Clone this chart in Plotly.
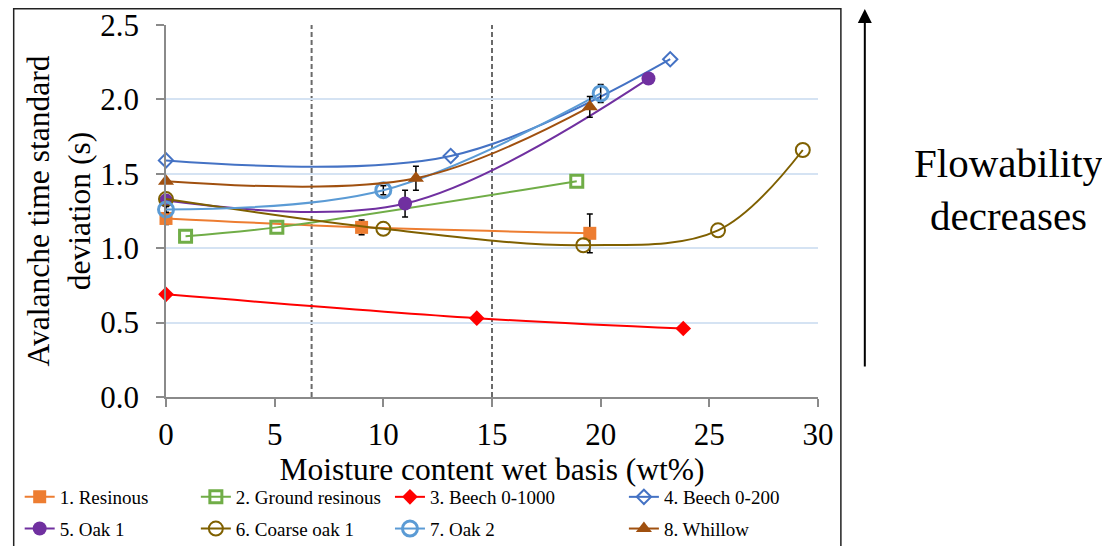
import plotly.graph_objects as go

# Avalanche time standard deviation vs moisture content
names = ["1. Resinous", "2. Ground resinous", "3. Beech 0-1000", "4. Beech 0-200",
         "5. Oak 1", "6. Coarse oak 1", "7. Oak 2", "8. Whillow"]

resinous_x = [0, 9, 19.5]
resinous_y = [1.20, 1.14, 1.10]
resinous_err = [0.04, 0.05, 0.13]

ground_x = [0.9, 5.1, 18.9]
ground_y = [1.08, 1.14, 1.45]

beech1000_x = [0, 14.3, 23.8]
beech1000_y = [0.69, 0.53, 0.46]

beech200_x = [0, 13.1, 23.2]
beech200_y = [1.59, 1.62, 2.27]

oak1_x = [0, 11, 22.2]
oak1_y = [1.32, 1.30, 2.14]
oak1_err = [None, 0.09, None]

coarse_x = [0, 10, 19.2, 25.4, 29.3]
coarse_y = [1.33, 1.13, 1.02, 1.12, 1.66]

oak2_x = [0, 10, 20]
oak2_y = [1.26, 1.39, 2.04]
oak2_err = [0.02, 0.03, 0.06]

whillow_x = [0, 11.5, 19.5]
whillow_y = [1.45, 1.47, 1.95]
whillow_err = [None, 0.08, 0.07]

limits_x = [6.7, 15]

FONT = "Liberation Serif, Times New Roman, serif"

series = [
    # x, y, err, color, symbol, size, marker line width, legend
    (resinous_x, resinous_y, resinous_err, "#ED7D31", "square", 13, 0, "legend"),
    (ground_x, ground_y, None, "#70AD47", "square-open", 12, 3, "legend2"),
    (beech1000_x, beech1000_y, None, "#FF0000", "diamond", 12, 0, "legend3"),
    (beech200_x, beech200_y, None, "#4472C4", "diamond-open", 11, 2, "legend4"),
    (oak1_x, oak1_y, oak1_err, "#7030A0", "circle", 14, 0, "legend"),
    (coarse_x, coarse_y, None, "#7F6000", "circle-open", 14, 2, "legend2"),
    (oak2_x, oak2_y, oak2_err, "#5B9BD5", "circle-open", 15, 3, "legend3"),
    (whillow_x, whillow_y, whillow_err, "#A0500F", "triangle-up", 14, 0, "legend4"),
]

fig = go.Figure()

for name, (x, y, err, col, sym, size, lw, leg) in zip(names, series):
    tr = dict(
        x=x, y=y, name=name, mode="lines+markers", legend=leg, legendgroup=name,
        line=dict(color=col, width=2, shape="spline", smoothing=1),
        marker=dict(symbol=sym, size=size, color=col, line=dict(color=col, width=lw)),
        cliponaxis=False,
    )
    if err is not None:
        tr["error_y"] = dict(type="data", array=err, color="black", thickness=1.5, width=3)
    fig.add_trace(go.Scatter(**tr))

for xv in limits_x:
    fig.add_shape(type="line", xref="x", yref="y", x0=xv, x1=xv, y0=0, y1=2.5,
                  line=dict(color="#6A6A6A", width=2, dash="5px,3px"), layer="below")

# outer frame around the chart
fig.add_shape(type="rect", xref="paper", yref="paper",
              x0=-0.2336, x1=1.0351, y0=-0.45, y1=1.0437,
              line=dict(color="#222222", width=1.5))

# flowability arrow and text
fig.add_annotation(xref="paper", yref="paper", x=1.0718, y=1.0457, ax=0, ay=360,
                   axref="pixel", ayref="pixel", text="", showarrow=True,
                   arrowhead=2, arrowsize=1.4, arrowwidth=2, arrowcolor="black", standoff=0)
fig.add_annotation(xref="paper", yref="paper", x=1.2931, y=0.559,
                   xanchor="center", yanchor="middle",
                   text="Flowability<br>decreases", showarrow=False,
                   font=dict(family=FONT, size=41, color="black"))

legend_common = dict(orientation="v", yanchor="middle", y=-0.3118, xanchor="left",
                     bgcolor="rgba(0,0,0,0)", tracegroupgap=4,
                     font=dict(family=FONT, size=19, color="black"))

fig.update_layout(
    width=1102, height=570,
    margin=dict(l=155, r=292, t=17, b=181),
    paper_bgcolor="white", plot_bgcolor="white",
    font=dict(family=FONT, color="black"),
    legend=dict(x=-0.2244, **legend_common),
    legend2=dict(x=0.0458, **legend_common),
    legend3=dict(x=0.3435, **legend_common),
    legend4=dict(x=0.7023, **legend_common),
    xaxis=dict(
        range=[0, 30], dtick=5, showgrid=False, zeroline=False, automargin=False,
        showline=True, linecolor="#8A8A8A", linewidth=1.5,
        ticks="outside", ticklen=8, tickcolor="#8A8A8A", tickwidth=1.5,
        tickfont=dict(family=FONT, size=31), ticklabelstandoff=1,
        ticklabeloverflow="allow",
        title=dict(text="Moisture content wet basis (wt%)", standoff=4,
                   font=dict(family=FONT, size=31.5)),
    ),
    yaxis=dict(
        range=[0, 2.5], dtick=0.5, tickformat=".1f", zeroline=False, automargin=False,
        showgrid=True, gridcolor="#D5E3F3", gridwidth=2,
        showline=True, linecolor="#8A8A8A", linewidth=1.5,
        ticks="outside", ticklen=8, tickcolor="#8A8A8A", tickwidth=1.5,
        tickfont=dict(family=FONT, size=31), ticklabelstandoff=11,
        ticklabeloverflow="allow",
        title=dict(text="Avalanche time standard<br>deviation (s)", standoff=0,
                   font=dict(family=FONT, size=31.5)),
    ),
)

fig.write_html("out.html")
